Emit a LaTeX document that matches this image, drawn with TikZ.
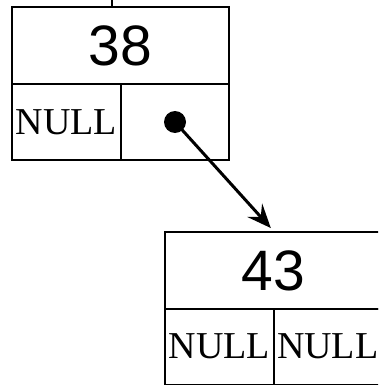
\documentclass[tikz,border=0pt]{standalone}
\usepackage{fontspec}
\setmainfont{Liberation Serif}
\setsansfont{Liberation Sans}
\usetikzlibrary{arrows.meta}

\tikzset{
  cell/.style = {draw, line width = 2pt, inner sep = 0pt},
  keycell/.style = {cell, minimum width = 217pt, minimum height = 77pt, font = \sffamily\fontsize{57}{57}\selectfont},
  ptrcell/.style = {cell, minimum width = 108.5pt, minimum height = 76pt, font = \fontsize{38}{38}\selectfont}
}

\begin{document}
\begin{tikzpicture}[x = 1pt, y = -1pt]
\useasboundingbox (0,0) rectangle (378,385);
\clip (0,0) rectangle (378,385);
% node 38
\node [keycell] (k38) at (120.5,45.5) {38};
\node [ptrcell] (l38) at (66.25,122) {NULL};
\node [ptrcell] (r38) at (174.75,122) {};
% node 43
\node [keycell] (k43) at (273.5,270.5) {43};
\node [ptrcell] (l43) at (219.25,346.5) {NULL};
\node [ptrcell] (r43) at (327.75,346.5) {NULL};
\node [circle, fill, inner sep = 0pt, minimum size = 22pt] (dot) at (175,122) {};
\coordinate (in38) at (112,0);
\draw [line width = 2pt] (in38) -- (in38 |- k38.north);
\draw [line width = 3pt, -{Stealth[length = 24pt, width = 20pt, inset = 9pt]}, shorten > = 4pt] (dot.center) -- (k43.north);
\end{tikzpicture}
\end{document}
